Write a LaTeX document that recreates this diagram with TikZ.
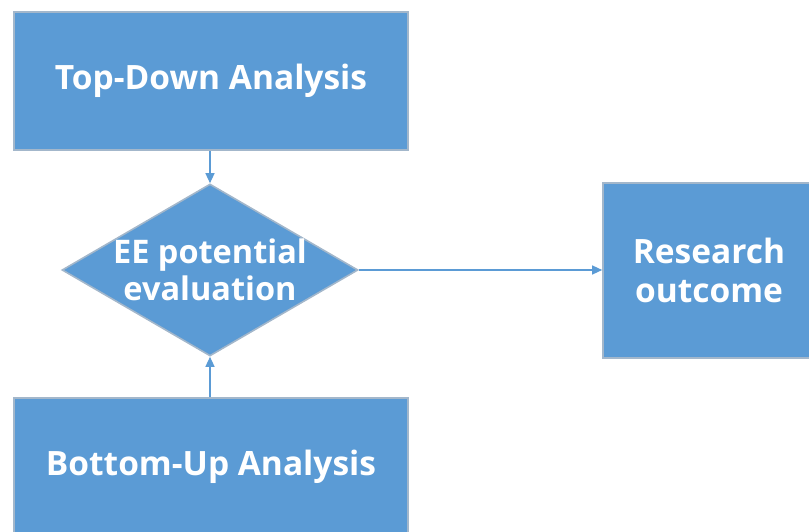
\documentclass[tikz,border=0pt]{standalone}
\usepackage{fontspec}
\setmainfont{Open Sans}
\usetikzlibrary{shapes.geometric}
\usetikzlibrary{positioning}
\usetikzlibrary{arrows.meta}
\definecolor{boxblue}{HTML}{5B9BD5}
\definecolor{boxrim}{HTML}{A3B7CB}
\tikzset{
    mybox/.style = {rectangle, line width=1.6pt, draw=boxrim, fill=boxblue, align=center, inner sep=0pt, font=\fontsize{33.5}{39}\selectfont\bfseries, text=white},
    mydiam/.style = {diamond, line width=1.6pt, draw=boxrim, fill=boxblue, inner sep=0pt, minimum width=296pt, minimum height=172pt},
    mytext/.style = {align=center, font=\fontsize{32.5}{37}\selectfont\bfseries, text=white},
    edgea/.style = {-{Triangle[length=10pt,width=9pt]}, line width=1.3pt, boxblue},
}

\begin{document}
\begin{tikzpicture}[x=1pt,y=1pt]
    \useasboundingbox (0,0) rectangle (809,531);

    \node[mybox, minimum width=394pt, minimum height=138pt] (topdown) at (211,450) {Top-Down Analysis};
    \node[mydiam] (eval) at (210,261) {};
    \node[mytext] (evaltext) at (eval.center) {EE potential\\evaluation};
    \node[mybox, minimum width=212pt, minimum height=175pt] (outcome) at (709,260.5) {Research\\outcome};
    \node[mybox, minimum width=394pt, minimum height=138pt] (bottomup) at (211,64) {Bottom-Up Analysis};

    \draw[edgea] (topdown.south -| eval.north) -- (eval.north);
    \draw[edgea] (bottomup.north -| eval.south) -- (eval.south);
    \draw[edgea] (eval.east) -- (eval.east -| outcome.west);

\end{tikzpicture}
\end{document}
